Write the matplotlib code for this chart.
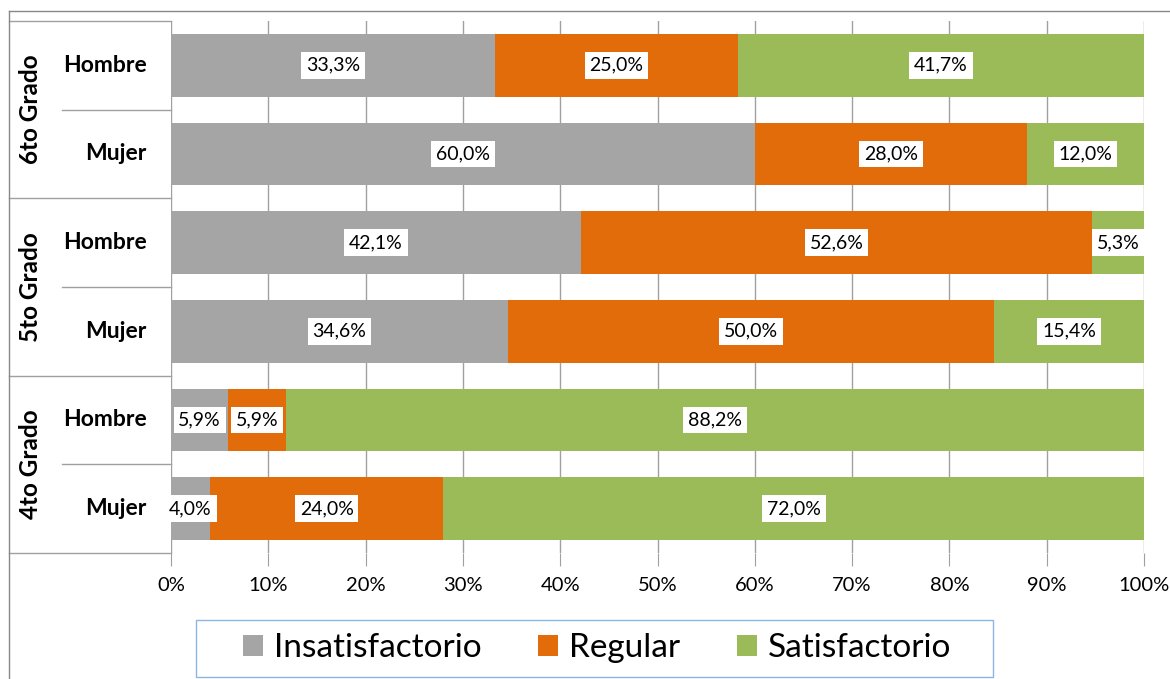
import matplotlib.pyplot as plt
from matplotlib.lines import Line2D
from matplotlib.patches import Patch, Rectangle
import numpy as np

grados = ['6to Grado', '5to Grado', '4to Grado']
sexos = ['Hombre', 'Mujer']
series = ['Insatisfactorio', 'Regular', 'Satisfactorio']
colores = ['#a5a5a5', '#e36c0a', '#9bbb59']

# orden de arriba hacia abajo
insatisfactorio = [33.3, 60.0, 42.1, 34.6, 5.9, 4.0]
regular = [25.0, 28.0, 52.6, 50.0, 5.9, 24.0]
satisfactorio = [41.7, 12.0, 5.3, 15.4, 88.2, 72.0]

plt.rcParams['font.family'] = ['Lato', 'DejaVu Sans']
fig = plt.figure(figsize=(11.7, 6.79), dpi=100)
ax = fig.add_axes([171/1170, 1-553/679, 973/1170, 532/679])

y = np.arange(len(insatisfactorio))
izq = np.zeros(len(y))
for vals, col in zip([insatisfactorio, regular, satisfactorio], colores):
    vals = np.array(vals)
    ax.barh(y, vals, left=izq, height=0.71, color=col, zorder=2)
    for yi, l, v in zip(y, izq, vals):
        ax.text(l + v/2, yi, f'{v:.1f}%'.replace('.', ','), ha='center', va='center',
                fontsize=14, color='black', zorder=4,
                bbox=dict(facecolor='white', edgecolor='none', pad=3.5))
    izq = izq + vals

ax.set_xlim(0, 100)
ax.set_ylim(5.5, -0.5)
ax.set_xticks(np.arange(0, 101, 10))
ax.set_xticklabels([f'{t}%' for t in range(0, 101, 10)], fontsize=14.5)
ax.set_yticks([])
ax.grid(axis='x', color='#a0a0a0', linewidth=1, zorder=0)
for s in ax.spines.values():
    s.set_visible(False)
ax.tick_params(axis='x', length=9, color='#a0a0a0', pad=8)

# tabla de categorias a la izquierda
tr = ax.get_yaxis_transform()
x0 = (9 - 171) / 973
x1 = (62 - 171) / 973
gris = '#a0a0a0'
for b in [-0.5, 1.5, 3.5, 5.5]:
    ax.add_line(Line2D([x0, 0], [b, b], transform=tr, color=gris, lw=1, clip_on=False))
for b in [0.5, 2.5, 4.5]:
    ax.add_line(Line2D([x1, 0], [b, b], transform=tr, color=gris, lw=1, clip_on=False))
for yi in y:
    ax.text(-0.025, yi, sexos[yi % 2], transform=tr, ha='right', va='center',
            fontsize=16.5, fontweight='bold')
for g, nombre in enumerate(grados):
    ax.text((31 - 171) / 973, 2*g + 0.5, nombre, transform=tr, rotation=90,
            ha='center', va='center', fontsize=17.5, fontweight='bold')

# borde exterior del grafico
fig.add_artist(Line2D([9/1170, 1], [1-11/679, 1-11/679], color='#888888', lw=1))
fig.add_artist(Line2D([9/1170, 9/1170], [0, 1-11/679], color='#888888', lw=1))

# marco de la leyenda
fig.add_artist(Rectangle((196/1170, 1-677/679), (993-196)/1170, 57/679,
                         transform=fig.transFigure, facecolor='white',
                         edgecolor='#8eb4e3', lw=1, zorder=1))
handles = [Patch(facecolor=c, edgecolor='none') for c in colores]
leg = fig.legend(handles, series, loc='center', bbox_to_anchor=(597/1170, 1-648/679),
                 ncol=3, fontsize=24, frameon=False,
                 handlelength=0.6, handleheight=0.6, handletextpad=0.33,
                 columnspacing=1.7, borderpad=0, borderaxespad=0)
leg.set_zorder(2)

fig.savefig('out.png', dpi=100)
